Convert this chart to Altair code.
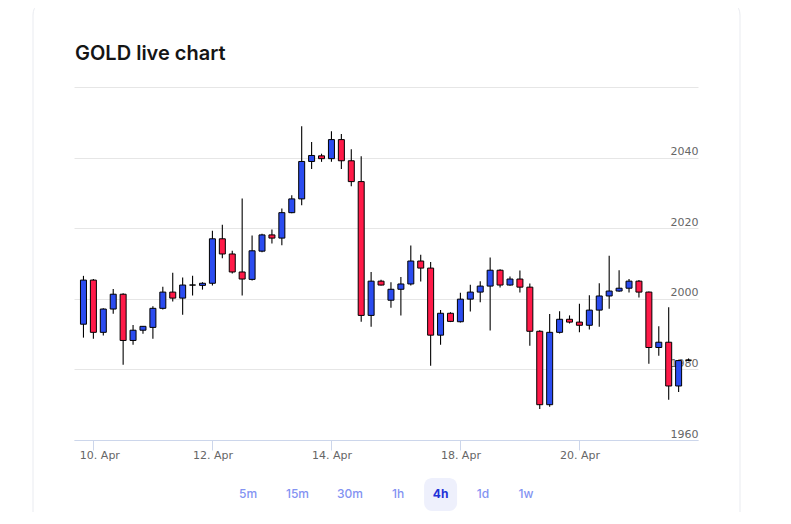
import altair as alt
import pandas as pd

# ---- data ----
OPEN = [1992.8, 2005.3, 1990.5, 1997.1, 2001.3, 1988.2, 1991.1, 1991.9, 1997.3, 2001.9,
        2000.2, 2003.9, 2003.8, 2004.4, 2017.0, 2012.7, 2007.6, 2005.5, 2013.5, 2018.1,
        2017.2, 2024.4, 2028.3, 2038.9, 2040.5, 2039.7, 2045.1, 2039.1, 2033.2, 1995.3,
        2005.0, 1999.6, 2002.7, 2004.2, 2010.7, 2008.7, 1989.7, 1995.9, 1993.5, 1999.9,
        2001.9, 2003.6, 2008.1, 2003.9, 2005.6, 2003.3, 1990.8, 1970.0, 1990.5, 1994.2,
        1993.4, 1992.5, 1996.8, 2000.8, 2002.2, 2003.0, 2005.0, 2001.9, 1986.2, 1987.7,
        1975.3, 1982.6]
HIGH = [2006.5, 2005.6, 1997.3, 2002.8, 2001.6, 1992.6, 1992.3, 1997.9, 2003.4, 2007.4,
        2006.0, 2006.5, 2004.7, 2019.3, 2021.0, 2013.6, 2028.4, 2017.9, 2018.4, 2019.6,
        2025.6, 2029.3, 2048.9, 2044.4, 2041.1, 2047.5, 2046.7, 2042.4, 2040.4, 2007.6,
        2005.4, 2004.7, 2006.2, 2015.1, 2012.5, 2010.4, 1996.8, 1996.2, 2001.7, 2004.0,
        2005.0, 2011.7, 2008.4, 2006.3, 2008.0, 2004.3, 1991.1, 1995.7, 1996.5, 1995.3,
        1998.6, 2001.0, 2004.4, 2012.2, 2008.1, 2005.6, 2005.3, 2002.1, 1992.2, 1997.6,
        1982.7, 1983.1]
LOW = [1989.0, 1988.7, 1989.6, 1995.8, 1981.3, 1987.0, 1990.1, 1988.7, 1997.0, 1999.2,
       1995.5, 2000.9, 2002.6, 2003.8, 2011.5, 2007.2, 2000.9, 2005.2, 2013.2, 2015.7,
       2015.2, 2024.2, 2026.5, 2036.8, 2038.8, 2038.8, 2036.8, 2031.9, 1993.5, 1992.1,
       2003.8, 1997.5, 1995.3, 2003.8, 2004.9, 1981.0, 1987.0, 1993.4, 1993.3, 1996.4,
       1999.0, 1991.0, 2003.2, 2003.7, 2001.8, 1986.7, 1968.8, 1969.4, 1990.2, 1993.0,
       1990.5, 1991.3, 1992.1, 1997.2, 2002.0, 2001.8, 2000.4, 1981.6, 1983.9, 1971.4,
       1973.6, 1982.3]
CLOSE = [2005.3, 1990.5, 1997.1, 2001.3, 1988.2, 1991.1, 1992.2, 1997.3, 2001.9, 2000.2,
         2003.9, 2003.9, 2004.4, 2017.0, 2012.7, 2007.6, 2005.6, 2013.6, 2018.1, 2017.2,
         2024.4, 2028.3, 2038.9, 2040.6, 2039.7, 2045.1, 2039.1, 2033.2, 1995.3, 2005.0,
         2003.9, 2002.7, 2004.2, 2010.7, 2008.7, 1989.7, 1995.9, 1993.6, 1999.9, 2001.9,
         2003.6, 2008.1, 2003.9, 2005.6, 2003.3, 1990.8, 1970.0, 1990.5, 1994.2, 1993.4,
         1992.5, 1996.8, 2000.8, 2002.2, 2003.0, 2005.0, 2001.9, 1986.2, 1987.7, 1975.3,
         1982.5, 1982.6]

TICK_INDEX = [1, 13, 25, 38, 50]
TICK_LABELS = ["10. Apr", "12. Apr", "14. Apr", "18. Apr", "20. Apr"]
Y_TICKS = [1960, 1980, 2000, 2020, 2040, 2060]
PERIODS = ["5m", "15m", "30m", "1h", "4h", "1d", "1w"]
ACTIVE = "4h"
TITLE = "GOLD live chart"

# ---- layout / style ----
W, H = 624, 353
BLUE, RED = "#2b4cf0", "#ff1a48"
BUTTON_X = [174, 223.5, 276, 324, 366.6, 409, 452]  # pixel centres, relative to plot

df = pd.DataFrame({"i": list(range(len(OPEN))), "open": OPEN, "high": HIGH,
                   "low": LOW, "close": CLOSE})
df["dir"] = ["up" if c > o else ("down" if c < o else "flat") for o, c in zip(OPEN, CLOSE)]

label_expr = "".join(f"datum.value == {i} ? '{t}' : " for i, t in zip(TICK_INDEX, TICK_LABELS)) + "''"

x = alt.X("i:Q", scale=alt.Scale(domain=[-0.45, len(OPEN) - 0.55], nice=False, zero=False),
          axis=alt.Axis(values=TICK_INDEX, labelExpr=label_expr, title=None, grid=False,
                        domainColor="#ccd6eb", tickColor="#ccd6eb", tickSize=10,
                        labelPadding=-1, labelColor="#666666", labelFont="DejaVu Sans",
                        labelFontSize=11,
                        labelOffset=alt.condition(f"datum.value == {TICK_INDEX[0]}",
                                                  alt.value(6), alt.value(0))))
y_scale = alt.Scale(domain=[Y_TICKS[0], Y_TICKS[-1]], nice=False, zero=False)
y_axis = alt.Axis(orient="right", values=Y_TICKS, format="d",
                  labelExpr=f"datum.value == {Y_TICKS[-1]} ? '' : datum.label",
                  title=None, grid=True, gridColor="#e6e6e6", domain=False, ticks=False, tickSize=0,
                  labelAlign="right", labelPadding=0, labelBaseline="alphabetic", labelOffset=-3,
                  labelColor="#666666", labelFont="DejaVu Sans", labelFontSize=11)

base = alt.Chart(df)
wicks = base.mark_rule(color="#000000", strokeWidth=1.1).encode(
    x=x, y=alt.Y("low:Q", scale=y_scale, axis=y_axis), y2="high:Q")
bodies = base.mark_bar(size=6, stroke="#000000", strokeWidth=1).encode(
    x=alt.X("i:Q"), y=alt.Y("open:Q"), y2="close:Q",
    color=alt.Color("dir:N", scale=alt.Scale(domain=["up", "down", "flat"], range=[BLUE, RED, "#000000"]),
                    legend=None))

one = pd.DataFrame({"k": [0]})
card = alt.Chart(one).mark_rect(fillOpacity=0, stroke="#e9ebf0", strokeWidth=1, cornerRadius=16).encode(
    x=alt.value(-41), x2=alt.value(666), y=alt.value(-88), y2=alt.value(460))
title = alt.Chart(one).mark_text(text=TITLE, align="left", baseline="middle", font="Inter",
                                 fontSize=20, fontWeight=600, color="#151515").encode(
    x=alt.value(1), y=alt.value(-33))

btn = pd.DataFrame({"label": PERIODS, "bx": BUTTON_X})
active_df = btn[btn["label"] == ACTIVE]
highlight = alt.Chart(active_df).transform_calculate(x1="datum.bx - 16.5", x2="datum.bx + 16.5").mark_rect(
    fill="#eef0fc", cornerRadius=8).encode(
    x=alt.X("x1:Q", scale=None), x2=alt.X2("x2:Q"), y=alt.value(391), y2=alt.value(424))
btn_text = alt.Chart(btn[btn["label"] != ACTIVE]).mark_text(
    font="Inter", fontSize=12, fontWeight=500, color="#8393f2", baseline="middle").encode(
    x=alt.X("bx:Q", scale=None), y=alt.value(407), text="label:N")
btn_active = alt.Chart(active_df).mark_text(
    font="Inter", fontSize=12, fontWeight=700, color="#1f33d8", baseline="middle").encode(
    x=alt.X("bx:Q", scale=None), y=alt.value(407), text="label:N")

chart = alt.layer(card, highlight, wicks, bodies, title, btn_text, btn_active).properties(
    width=W, height=H, autosize="none",
    padding={"left": 66, "top": 79, "right": 80, "bottom": 72}
).configure(background="white", view=alt.ViewConfig(stroke=None))

chart.save("out.html", embed_options={"renderer": "svg", "actions": False})
